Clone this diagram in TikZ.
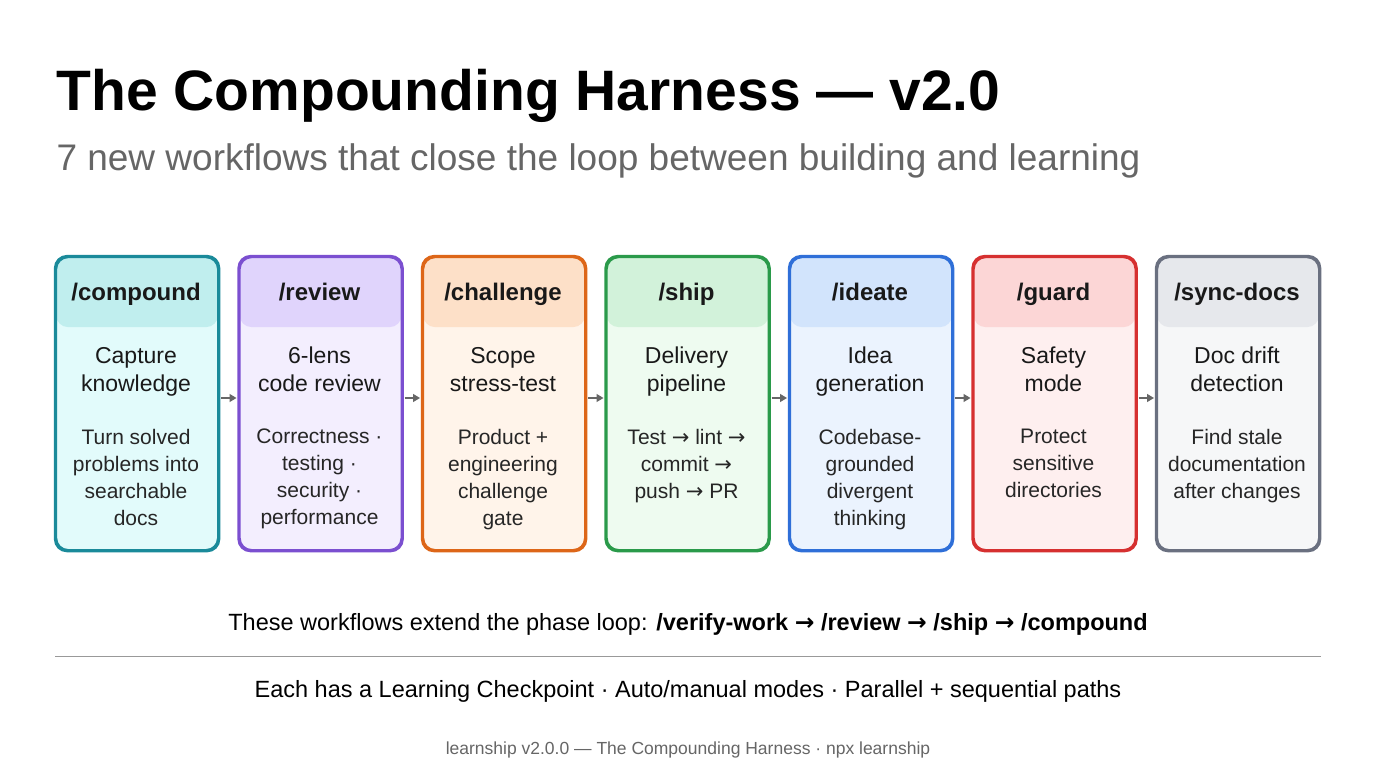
\documentclass[tikz,border=0pt]{standalone}
\usepackage{fontspec}
\setmainfont{Liberation Sans}
\newfontfamily\djvfont{DejaVu Sans}
\newcommand{\myra}{{\djvfont →}}
\usetikzlibrary{arrows.meta}
\begin{document}
\begin{tikzpicture}[x=1pt,y=-1pt,
  card/.style={draw=#1, line width=2.2pt, rounded corners=12pt, minimum width=162pt, minimum height=293pt, anchor=north west, inner sep=0pt},
  hd/.style={font=\fontsize{24}{28}\selectfont\bfseries, text=black!90, text height=17pt, text depth=5pt},
  sub/.style={font=\fontsize{23}{28}\selectfont, align=center, text=black!90, inner sep=0pt, anchor=north, execute at begin node=\strut},
  desc/.style={font=\fontsize{21}{27}\selectfont, align=center, text=black!85, inner sep=0pt, anchor=north, execute at begin node=\strut},
  arr/.style={-{Stealth[length=7pt,width=8pt,inset=0pt]}, draw=black!60, line width=1.2pt, shorten <=2pt, shorten >=2pt}]
\useasboundingbox (0,0) rectangle (1376,768);
\fill[white] (0,0) rectangle (1376,768);
\node[anchor=west, font=\fontsize{57}{64}\selectfont\bfseries] (title) at (53,96) {The Compounding Harness — v2.0};
\node[anchor=west, font=\fontsize{37}{42}\selectfont, text=black!60] (subtitle) at (53,161) {7 new workflows that close the loop between building and learning};
\def\cards{%
 1/compound/1a8a9a/c0eeee/e2fbfb/{Capture\\knowledge}/{Turn solved\\problems into\\searchable\\docs},
 2/review/7b4fd0/e0d4fc/f3eefe/{6-lens\\code review}/{Correctness ·\\testing ·\\security ·\\performance},
 3/challenge/dd6618/fde0c8/fff4ea/{Scope\\stress-test}/{Product +\\engineering\\challenge\\gate},
 4/ship/2a9a4a/d2f2da/eefbf0/{Delivery\\pipeline}/{Test \myra{} lint \myra\\commit \myra\\push \myra{} PR},
 5/ideate/2f6fd8/d2e4fc/ebf3fe/{Idea\\generation}/{Codebase-\\grounded\\divergent\\thinking},
 6/guard/d63030/fcd6d6/feefef/{Safety\\mode}/{Protect\\sensitive\\directories},
 7/sync-docs/6a7080/e6e8ec/f6f7f8/{Doc drift\\detection}/{Find stale\\documentation\\after changes}}
\foreach \i/\n/\bc/\hc/\fc/\s/\d in \cards {
  \definecolor{bc\i}{HTML}{\bc}\definecolor{hc\i}{HTML}{\hc}\definecolor{fc\i}{HTML}{\fc}
  \pgfmathsetmacro{\xx}{55+183.5*(\i-1)}
  \node[card=bc\i, fill=fc\i, path picture={\fill[hc\i] (path picture bounding box.north west) rectangle ([yshift=-70pt]path picture bounding box.north east);}] (c\i) at (\xx,256) {};
  \draw[bc\i, line width=2.2pt, rounded corners=12pt] (c\i.north west) rectangle (c\i.south east);
  \node[hd] (h\i) at (\xx+81,294) {/\n};
  \node[sub] (s\i) at (\xx+81,347) {\s};
  \node[desc] (d\i) at (\xx+81,429) {\d};
}
\foreach \i [evaluate=\i as \j using int(\i+1)] in {1,...,6} {
  \draw[arr] ([yshift=-142pt]c\i.north east) -- ([yshift=-142pt]c\j.north west);
}
\node[font=\fontsize{23.5}{26}\selectfont] (loop) at (688,624) {These workflows extend the phase loop: \textbf{/verify-work \myra{} /review \myra{} /ship \myra{} /compound}};
\coordinate (la) at (55,656); \coordinate (lb) at (1321,656);
\draw[black!40, line width=0.8pt] (la) -- (lb);
\node[font=\fontsize{23.5}{26}\selectfont] (each) at (688,691) {Each has a Learning Checkpoint · Auto/manual modes · Parallel + sequential paths};
\node[font=\fontsize{17.5}{20}\selectfont, text=black!60] (foot) at (688,750) {learnship v2.0.0 — The Compounding Harness · npx learnship};
\end{tikzpicture}
\end{document}
